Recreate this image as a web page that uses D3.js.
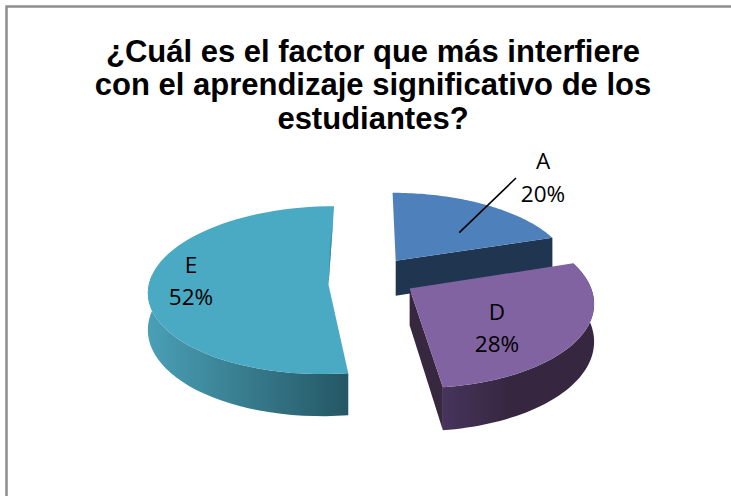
<!DOCTYPE html>
<html><head><meta charset="utf-8">
<script src="https://cdn.jsdelivr.net/npm/d3@7/dist/d3.min.js"></script>
<style>html,body{margin:0;padding:0;background:#fff}svg{display:block}</style>
</head><body><svg id="c" width="731" height="496"></svg>
<script>
const titleLines = ["¿Cuál es el factor que más interfiere","con el aprendizaje significativo de los","estudiantes?"];
const categories = ["A","D","E"];
const values = [20,28,52];
const topColors = ["#4e80bb","#8163a1","#4aa9c3"];
const wallFrom = ["#1f3550","#46345c","#4a9fb6"];
const wallTo = ["#1f3550","#36263f","#245764"];
const cutColors = ["#1f3550","#38283f","#3a8ea6"];

// layout of the projected pie
const cx=370, cy=277, R=178, persp=1250, tilt=.46, depth=36;
const explode=[45,46,41];
const apexPull=[0,0,.08];
const svg=d3.select("#c");
const defs=svg.append("defs");
svg.append("path").attr("d","M6.5,496V6.5H731").attr("fill","none").attr("stroke","#8e8e8e").attr("stroke-width",2.5);

titleLines.forEach((t,i)=>svg.append("text").text(t).attr("x",373).attr("y",[62,95,129][i])
  .attr("text-anchor","middle").attr("font-family","Liberation Sans").attr("font-weight","bold").attr("font-size",31).attr("fill","#000"));

const arcs=d3.pie().sort(null)(values);
const rScale=d3.scaleLinear().domain([0,1]).range([0,R]);
const a0=i=>arcs[i].startAngle, a1=i=>arcs[i].endAngle;
function P(a,r,i,down){
  const bis=(a0(i)+a1(i))/2;
  const X=Math.sin(a)*rScale(r)+Math.sin(bis)*explode[i];
  const Y=-Math.cos(a)*rScale(r)-Math.cos(bis)*explode[i];
  const s=persp/(persp-Y);
  return [cx+X*s, cy+(Y*tilt+(down?depth:0))*s];
}
const apex=(i,down)=>P(Math.PI,apexPull[i],i,down);
const line=d3.line();
[0,2,1].forEach(i=>{
  const g=svg.append("g");
  const th=d3.range(0,61).map(k=>a0(i)+(a1(i)-a0(i))*k/60);
  const rimT=th.map(a=>P(a,1,i,false));
  // only the part of the outer wall that faces the viewer
  const wallTh=th.filter(a=>a<=Math.PI*1.5+.05);
  const wT=wallTh.map(a=>P(a,1,i,false)), wB=wallTh.map(a=>P(a,1,i,true));
  const id="w"+i;
  const xs=wB.map(p=>p[0]);
  const grad=defs.append("linearGradient").attr("id",id).attr("gradientUnits","userSpaceOnUse")
    .attr("x1",d3.min(xs)).attr("x2",d3.max(xs)).attr("y1",0).attr("y2",0);
  grad.append("stop").attr("offset",0).attr("stop-color",wallFrom[i]);
  grad.append("stop").attr("offset",i==1?.45:1).attr("stop-color",wallTo[i]);
  // cut face towards the viewer
  if(i<2){const a=a1(i);g.append("path").attr("d",line([apex(i,false),P(a,1,i,false),P(a,1,i,true),apex(i,true)])+"Z").attr("fill",cutColors[i]);}
  // outer wall
  if(i!=0) g.append("path").attr("d",line(wT.concat(wB.slice().reverse()))+"Z").attr("fill",`url(#${id})`);
  // top face
  g.append("path").attr("d",line([apex(i,false)].concat(rimT))+"Z").attr("fill",topColors[i]);
  if(i==2){
    const a=a1(i);
    g.append("path").attr("d",line([apex(i,false),P(a,.8,i,false),P(a-.02,.4,i,false)])+"Z").attr("fill",cutColors[2]);
  }
});
// labels
const labelX=[543,497,191], labelY1=[169,320,273], labelY2=[202,352,305];
categories.forEach((c,i)=>{
  const t=svg.append("text").attr("text-anchor","middle").attr("font-family","Open Sans").attr("font-size",22.5).attr("fill","#000");
  t.append("tspan").attr("x",labelX[i]).attr("y",labelY1[i]).text(c);
  t.append("tspan").attr("x",labelX[i]).attr("y",labelY2[i]).text(values[i]+"%");
});
svg.append("path").attr("d",line([P(.8,.55,0,false),[516,178]])).attr("stroke","#000").attr("stroke-width",1.6).attr("fill","none");
</script></body></html>
